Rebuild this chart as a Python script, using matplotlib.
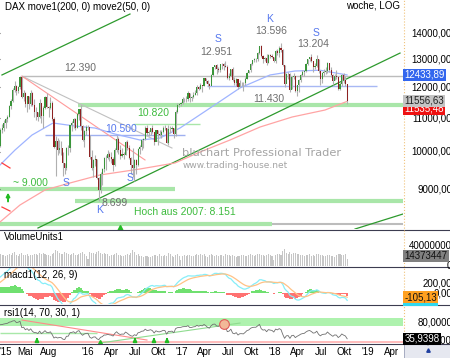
import numpy as np
import pandas as pd
import matplotlib
matplotlib.use("Agg")
import matplotlib.pyplot as plt
from matplotlib.transforms import blended_transform_factory, ScaledTranslation
from matplotlib.patches import Rectangle
from matplotlib.lines import Line2D

plt.rcParams['font.family'] = ['Liberation Sans', 'DejaVu Sans']
plt.rcParams['font.size'] = 7

# weekly DAX candles (week ending Friday)
weeks = pd.date_range('2015-01-23', periods=195, freq='W-FRI')
first_open = 10167
close = [10649, 10694, 10846, 10963, 11051, 11402, 11551, 11901, 12040, 11869,
         12002, 12375, 11689, 11811, 11454, 11709, 11447, 11815, 11414, 11197,
         11196, 11041, 11492, 11059, 11316, 11673, 11347, 11308, 11490, 10985,
         10124, 10298, 10038, 10123, 10104, 9688, 9553, 10096, 10104, 10795,
         10850, 10988, 10708, 11120, 11293, 10752, 10340, 10608, 10727, 10743,
         9849, 9545, 9764, 9798, 9286, 8967, 9388, 9513, 9824, 9831,
         9950, 9851, 9794, 9622, 10051, 10373, 10039, 9870, 9952, 9916,
         10287, 10103, 9834, 9631, 9557, 9776, 9630, 10067, 10147, 10337,
         10367, 10713, 10544, 10588, 10684, 10573, 10276, 10627, 10511, 10490,
         10580, 10711, 10696, 10259, 10668, 10664, 10700, 10513, 11203, 11404,
         11450, 11481,
         11599, 11629, 11630, 11814, 11651, 11666, 11757, 11804, 12027, 11963,
         12095, 12064, 12313, 12225, 12109, 12049, 12438, 12717, 12771, 12638,
         12602, 12823, 12816, 12752, 12733, 12325, 12389, 12631, 12240, 12162,
         12297, 12014, 12165, 12168, 12143, 12304, 12518, 12592, 12829, 12956,
         12992, 12991, 13218, 13479, 13127, 12994, 13060, 12861, 13154, 13104,
         13073, 12918,
         13320, 13245, 13434, 13340, 12785, 12107, 12452, 12484, 11914, 12346,
         12390, 11887, 12097, 12241, 12442, 12540, 12580, 12820, 13001, 13077,
         12938, 12724, 12767, 13011, 12580, 12306, 12496, 12541, 12561, 12860,
         12616, 12424, 12211, 12394, 12364, 11959, 12124, 12431, 12247, 12111,
         11556.63]
high = [10710, 10830, 10930, 11000, 11100, 11420, 11620, 11990, 12220, 12080,
        12060, 12390, 12380, 11900, 11850, 11720, 11700, 11920, 11850, 11600,
        11350, 11200, 11630, 11300, 11400, 11700, 11800, 11400, 11670, 11550,
        11050, 10450, 10400, 10350, 10300, 10000, 9700, 10150, 10200, 10800,
        10900, 11000, 11000, 11170, 11300, 11430, 10800, 10650, 10800, 10800,
        10500, 10050, 9800, 9900, 9800, 9300, 9450, 9550, 9850, 9900,
        10050, 10000, 10000, 9850, 10100, 10480, 10420, 10200, 10100, 10000,
        10300, 10350, 10200, 9850, 10110, 9800, 9800, 10100, 10200, 10350,
        10400, 10750, 10800, 10650, 10700, 10800, 10500, 10650, 10650, 10650,
        10650, 10750, 10800, 10700, 10800, 10750, 10750, 10700, 11250, 11480,
        11480, 11500,
        11670, 11650, 11700, 11890, 11820, 11700, 11850, 11900, 12070, 12050,
        12150, 12100, 12330, 12320, 12250, 12150, 12480, 12720, 12800, 12840,
        12700, 12830, 12850, 12850, 12951, 12800, 12500, 12650, 12700, 12350,
        12320, 12300, 12250, 12200, 12200, 12350, 12550, 12620, 12850, 12980,
        13050, 13050, 13250, 13480, 13525, 13150, 13100, 13200, 13200, 13200,
        13200, 13100,
        13350, 13400, 13500, 13596, 13400, 12800, 12500, 12550, 12500, 12400,
        12500, 12400, 12100, 12300, 12450, 12600, 12600, 12850, 13020, 13100,
        13204, 12900, 12850, 13170, 13000, 12600, 12550, 12650, 12700, 12900,
        12850, 12700, 12450, 12450, 12600, 12400, 12200, 12450, 12500, 12400,
        12120]
low = [10150, 10540, 10600, 10690, 10870, 11040, 11280, 11500, 11840, 11760,
       11800, 11960, 11650, 11550, 11350, 11200, 11300, 11400, 11380, 11050,
       10950, 10900, 11020, 10850, 10700, 11300, 11320, 11050, 11280, 10900,
       10100, 9338, 9900, 9980, 9900, 9325, 9400, 9500, 9900, 10000,
       10600, 10700, 10650, 10700, 10950, 10650, 10300, 10150, 10500, 10650,
       9800, 9500, 9300, 9600, 9250, 8699, 8900, 9100, 9450, 9500,
       9800, 9750, 9700, 9480, 9600, 10000, 9950, 9800, 9850, 9800,
       9900, 10050, 9800, 9400, 9300, 9214, 9400, 9600, 9950, 10050,
       10100, 10350, 10500, 10450, 10500, 10550, 10200, 10300, 10200, 10450,
       10400, 10550, 10650, 10250, 10200, 10550, 10600, 10400, 10450, 11150,
       11350, 11400,
       11450, 11500, 11500, 11550, 11500, 11550, 11650, 11750, 11750, 11900,
       11950, 11850, 12050, 12150, 12050, 11950, 12200, 12400, 12650, 12450,
       12550, 12550, 12650, 12600, 12700, 12300, 12250, 12400, 12220, 12100,
       12050, 11950, 12000, 12050, 11868, 12100, 12300, 12500, 12550, 12800,
       12900, 12900, 12950, 13200, 13100, 12850, 12950, 12800, 12850, 13050,
       13050, 12900,
       12850, 13150, 13100, 13250, 12750, 12000, 12150, 12300, 11850, 11950,
       12300, 11850, 11726, 11850, 12200, 12400, 12400, 12550, 12800, 12950,
       12900, 12550, 12650, 12700, 12500, 12100, 12150, 12400, 12450, 12500,
       12550, 12350, 12100, 12250, 12300, 11900, 11900, 12050, 12150, 12050,
       11450]
volume_m = [24, 22, 23, 21, 22, 25, 23, 26, 28, 22, 21, 24, 27, 23, 22, 24, 21, 23, 22, 25,
            24, 23, 26, 25, 27, 24, 23, 22, 21, 24, 27, 33, 31, 26, 25, 24, 29, 27, 25, 23,
            24, 26, 22, 23, 25, 27, 28, 24, 20, 14,
            28, 27, 26, 25, 29, 31, 27, 24, 26, 25, 24, 20, 22, 23, 24, 26, 22, 23, 21, 20,
            22, 24, 23, 26, 32, 28, 23, 24, 21, 20, 19, 21, 20, 19, 18, 20, 23, 22, 21, 24,
            20, 21, 22, 20, 26, 24, 21, 19, 23, 24, 20, 13,
            21, 22, 21, 22, 23, 21, 20, 22, 24, 22, 25, 23, 24, 21, 19, 23, 24, 22, 21, 22,
            20, 23, 22, 21, 24, 23, 22, 21, 23, 20, 19, 21, 20, 22, 23, 21, 20, 22, 24, 22,
            21, 23, 24, 25, 23, 22, 21, 22, 24, 23, 20, 12,
            22, 24, 25, 23, 31, 34, 26, 24, 28, 25, 27, 26, 24, 25, 23, 22, 21, 23, 22, 24,
            21, 22, 20, 25, 24, 23, 22, 21, 20, 23, 22, 21, 20, 19, 22, 24, 25, 23, 22, 24,
            14.373447]

# moving averages (decimal year, value)
ma200_t = [2015.057, 2015.271, 2015.539, 2015.807, 2016.129, 2016.557, 2016.932,
           2017.200, 2017.522, 2017.844, 2018.187, 2018.540, 2018.776]
ma200_v = [8197, 8601, 8975, 9155, 9365, 9525, 9689, 9994, 10340, 10728, 11036, 11257, 11535.48]
ma50_t = [2015.057, 2015.218, 2015.400, 2015.625, 2015.861, 2016.075, 2016.289, 2016.557,
          2016.772, 2016.986, 2017.308, 2017.629, 2017.951, 2018.219, 2018.487, 2018.776]
ma50_v = [9633, 10051, 10487, 10850, 10758, 10697, 10517, 10340, 10399, 10697, 11320,
          11983, 12432, 12573, 12600, 12433.89]

# indicator start state (before first visible week)
ema12_seed, ema26_seed, signal_seed = 9800, 9500, 200
rsi_gain_seed, rsi_loss_seed = 130, 60

XMIN, XMAX = 2015.057, 2019.376


def dec(d):
    d = pd.Timestamp(d)
    return d.year + (d.dayofyear - 1) / 365.25


def ema(values, n, seed):
    out, e, a = [], seed, 2 / (n + 1)
    for v in values:
        e += a * (v - e)
        out.append(e)
    return np.array(out)


def rsi(values, n, g, l, prev):
    out = []
    for v in values:
        d = v - prev
        prev = v
        g = (g * (n - 1) + max(d, 0)) / n
        l = (l * (n - 1) + max(-d, 0)) / n
        out.append(100 - 100 / (1 + g / l))
    return np.array(out)


t = np.array([dec(d) for d in weeks])
close = np.array(close, float)
opn = np.r_[first_open, close[:-1]]
high = np.array(high, float)
low = np.array(low, float)
vol = np.array(volume_m) * 1e6

macd_line = ema(close, 12, ema12_seed) - ema(close, 26, ema26_seed)
signal = ema(macd_line, 9, signal_seed)
hist = macd_line - signal
rsi_v = rsi(close, 14, rsi_gain_seed, rsi_loss_seed, first_open)

W, H = 450, 358
fig = plt.figure(figsize=(W / 100, H / 100), dpi=100)


def box(top, bottom, right=403):
    return [0, 1 - bottom / H, right / W, (bottom - top) / H]


ax = fig.add_axes(box(0, 229))
axv = fig.add_axes(box(230, 266))
axm = fig.add_axes(box(268, 304))
axr = fig.add_axes(box(306, 343))
for a in (ax, axv, axm, axr):
    a.set_xlim(XMIN, XMAX)
    for s in a.spines.values():
        s.set_visible(False)
    a.set_xticks([])
    a.set_yticks([])

# ---------------- price panel
ax.set_yscale('log')
ax.set_ylim(8036, 15374)
ax.minorticks_off()
ax.set_yticks([9000, 10000, 11000, 12000, 13000, 14000])
ax.tick_params(axis='y', length=2, color='#555', labelleft=False)

GREEN_BAND = '#a9e6a9'
ax.hlines(12390, 2015.293, XMAX, color='#bcbcbc', lw=1, zorder=1)
ax.hlines(11430, 2015.89, XMAX, color=GREEN_BAND, lw=3, zorder=1)
ax.hlines(10820, 2016.48, 2017.2, color=GREEN_BAND, lw=1, zorder=1)
ax.hlines(10500, 2015.54, 2017.04, color='#9fb0f0', lw=1, zorder=1)
ax.hlines(12060, 2017.275, 2019.1, color='#a8b8f4', lw=1, zorder=1)
ax.hlines(9000, XMIN, 2016.93, color=GREEN_BAND, lw=3, zorder=1)
ax.hlines(8699, 2015.86, XMAX, color=GREEN_BAND, lw=3, zorder=1)
ax.hlines(8151, XMIN, 2017.97, color=GREEN_BAND, lw=3, zorder=1)
ax.hlines(8151, 2017.97, XMAX, color='#bcbcbc', lw=1.5, zorder=1)

ax.plot([2015.293, 2016.9], [12390, 10108], color='#c0c0c0', lw=0.8, zorder=2)
ax.plot([2015.293, 2016.611], [12390, 9772], color='#ff9a9a', lw=0.8, zorder=2)
ax.plot([2015.464, 2019.344], [8059, 13228], color='#2d9a2d', lw=0.9, zorder=2)
ax.plot([2015.078, 2016.45], [12432, 14775], color='#2d9a2d', lw=0.9, zorder=2)
ax.plot([2018.862, 2019.376], [8036, 8385], color='#2d9a2d', lw=0.9, zorder=2)

ax.plot(ma200_t, ma200_v, color='#ffa4a4', lw=0.9, zorder=2)
ax.plot(ma50_t, ma50_v, color='#9fb4ff', lw=0.9, zorder=2)

up = close >= opn
ax.vlines(t, low, high, color='#b0b0b0', lw=0.8, zorder=3)
ax.bar(t, np.abs(close - opn), bottom=np.minimum(close, opn), width=0.012,
       color=np.where(up, '#3a953a', '#8e2222'), edgecolor='none', zorder=4)

ax.text(0.012, 0.97, 'DAX move1(200, 0) move2(50, 0)', transform=ax.transAxes,
        ha='left', va='center', fontsize=7)
ax.text(0.992, 0.975, 'woche, LOG', transform=ax.transAxes, ha='right', va='center', fontsize=7)

ax.text(0.452, 0.332, 'bluchart Professional Trader', transform=ax.transAxes,
        family='DejaVu Sans', fontsize=8.2, color='#a4a4a4', ha='left', va='center')
ax.text(0.452, 0.279, 'www.trading-house.net', transform=ax.transAxes,
        family='DejaVu Sans', fontsize=6.5, color='#a4a4a4', ha='left', va='center')

grey_t, green_t, blue_t = '#6e6e6e', '#3dbb3d', '#5577ee'
for txt, x, y, c in [('12.390', 2015.914, 12680, grey_t), ('10.820', 2016.697, 11162, green_t),
                     ('10.500', 2016.354, 10667, blue_t), ('~ 9.000', 2015.378, 9155, green_t),
                     ('8.699', 2016.289, 8650, grey_t), ('Hoch aus 2007: 8.151', 2017.04, 8433, green_t),
                     ('11.430', 2017.94, 11614, grey_t), ('12.951', 2017.372, 13267, grey_t),
                     ('13.596', 2017.961, 14087, grey_t), ('13.204', 2018.412, 13572, grey_t)]:
    ax.text(x, y, txt, color=c, ha='center', va='center', fontsize=7.5, zorder=6)
for txt, x, y in [('S', 2015.764, 9155), ('S', 2016.45, 9286), ('K', 2016.129, 8481),
                  ('S', 2017.393, 13772), ('K', 2017.951, 14573), ('S', 2018.444, 14000)]:
    ax.text(x, y, txt, color=blue_t, ha='center', va='center', fontsize=7.5, zorder=6)

ax.annotate('', xy=(2015.143, 8980), xytext=(2015.143, 8620),
            arrowprops=dict(arrowstyle='-|>', color='#22bb22', lw=1.4, mutation_scale=5))
ax.plot([2015.078, 2015.164], [9689, 9552], color='#ff4040', lw=0.9)
ax.plot([2015.078, 2015.164], [8552, 8456], color='#ff4040', lw=0.9)
ax.plot([2016.343], [8036], marker='^', ms=6, color='#22bb22', clip_on=True)

# ---------------- volume panel
axv.set_ylim(0, 72e6)
axv.bar(t, vol, width=0.011, color='#c6c6c6', edgecolor='none')
axv.text(0.01, 0.8, 'VolumeUnits1', transform=axv.transAxes, ha='left', va='center', fontsize=7)

# ---------------- macd panel
axm.set_ylim(-255, 544)
axm.bar(t, hist, width=0.0195, color=np.where(hist >= 0, '#70e070', '#ff7272'), edgecolor='none')
axm.plot(t, macd_line, color='#86eef8', lw=0.9)
axm.plot(t, signal, color='#ffc286', lw=0.9)
axm.text(0.01, 0.8, 'macd1(12, 26, 9)', transform=axm.transAxes, ha='left', va='center', fontsize=7)

# ---------------- rsi panel
axr.set_ylim(24.65, 123.6)
axr.axhspan(70, 92, color='#aef2ae', lw=0)
axr.axhspan(24.65, 30, color='#ffbcbc', lw=0)
axr.hlines(51.3, XMIN, 2016.096, color='#a8e8a8', lw=1)
axr.plot([2015.293, 2016.632], [86, 32.6], color='#ff8a8a', lw=0.8)
axr.plot([2016.129, 2017.629], [24.65, 78], color='#8fdc8f', lw=0.8)
axr.plot(t, rsi_v, color='#707070', lw=0.6)
for xa in [2015.453, 2016.504, 2016.707, 2016.847]:
    axr.annotate('', xy=(xa, 40), xytext=(xa, 26.5),
                 arrowprops=dict(arrowstyle='-|>', color='#22bb22', lw=1.4, mutation_scale=5))
axr.plot([2016.129], [24.65], marker='^', ms=5, color='#22bb22')
axr.plot([2017.458], [75.5], marker='o', ms=7, mfc='#f2b898', mec='#e05a5a', mew=0.8)
axr.text(0.01, 0.8, 'rsi1(14, 70, 30, 1)', transform=axr.transAxes, ha='left', va='center', fontsize=7)

# x tick labels
tick_pos = [2015.33, 2015.58, 2016.0, 2016.25, 2016.5, 2016.75, 2017.0, 2017.25, 2017.5,
            2017.75, 2018.0, 2018.25, 2018.5, 2018.75, 2019.0, 2019.25]
tick_lab = ['Mai', 'Aug', "'16", 'Apr', 'Jul', 'Okt', "'17", 'Apr', 'Jul', 'Okt',
            "'18", 'Apr', 'Jul', 'Okt', "'19", 'Apr']
axr.set_xticks(tick_pos)
axr.set_xticklabels(tick_lab, fontsize=7)
axr.tick_params(axis='x', length=0, pad=3)
axr.text(0.0, -0.24, "'15", transform=axr.transAxes, ha='left', va='center', fontsize=7)


# ---------------- right value scale
def right_label(a, v, txt, fc=None, tc='black', z=5, dy=0):
    tr = blended_transform_factory(fig.transFigure, a.transData)
    tr = tr + ScaledTranslation(0, dy / 100, fig.dpi_scale_trans)
    if fc is None:
        fig.text(452 / W, v, txt, transform=tr, ha='right', va='center', fontsize=7, zorder=z)
    else:
        fig.text(404.5 / W, v, txt, transform=tr, ha='left', va='center', fontsize=7,
                 color=tc, zorder=z, bbox=dict(boxstyle='square,pad=0.12', fc=fc, ec='none'))


for v in [9000, 10000, 11000, 12000, 13000, 14000]:
    right_label(ax, v, f'{v},00')
right_label(ax, ma50_v[-1], '12433,89', fc='#3366ee', tc='white', z=7)
right_label(ax, ma200_v[-1], '11535,48', fc='#ee1111', tc='white', z=7, dy=-7)
right_label(ax, close[-1], '11556,63', fc='#c4c4c4', tc='#222', z=8)
right_label(axv, 40e6, '40000000')
right_label(axv, 0, '0')
right_label(axv, vol[-1], '14373447', fc='#808080', tc='#111', z=7, dy=3)
right_label(axm, 200, '200,00')
right_label(axm, 0, '0,00', dy=-1)
right_label(axm, -105.13, '-105,13', fc='#30d8f0', tc='#30d8f0', z=7, dy=-3)
right_label(axm, -105.13, '-105,13', fc='#ffa020', tc='#111', z=8)
right_label(axr, 80, '80,0000')
right_label(axr, 30, '30,0000')
right_label(axr, 35.9398, '35,9398', fc='#000000', tc='white', z=8)

# frame lines
for y in [229.5, 266.5, 304.5, 343.5]:
    fig.add_artist(Line2D([0, 1], [1 - y / H, 1 - y / H], color='#3c3c50', lw=0.8))
fig.add_artist(Line2D([403.5 / W, 403.5 / W], [1 - 343 / H, 1], color='#f0c27a', lw=0.8, ls=':'))
fig.add_artist(Rectangle((404 / W, 0), 46 / W, 14 / H, fc='#e6e8f0', ec='#9aa0b8', lw=0.6))
fig.add_artist(Line2D([428 / W], [1 - 350 / H], marker='^', ms=2.5, color='#2040a0', ls='none'))

fig.savefig('out.png', dpi=100)
